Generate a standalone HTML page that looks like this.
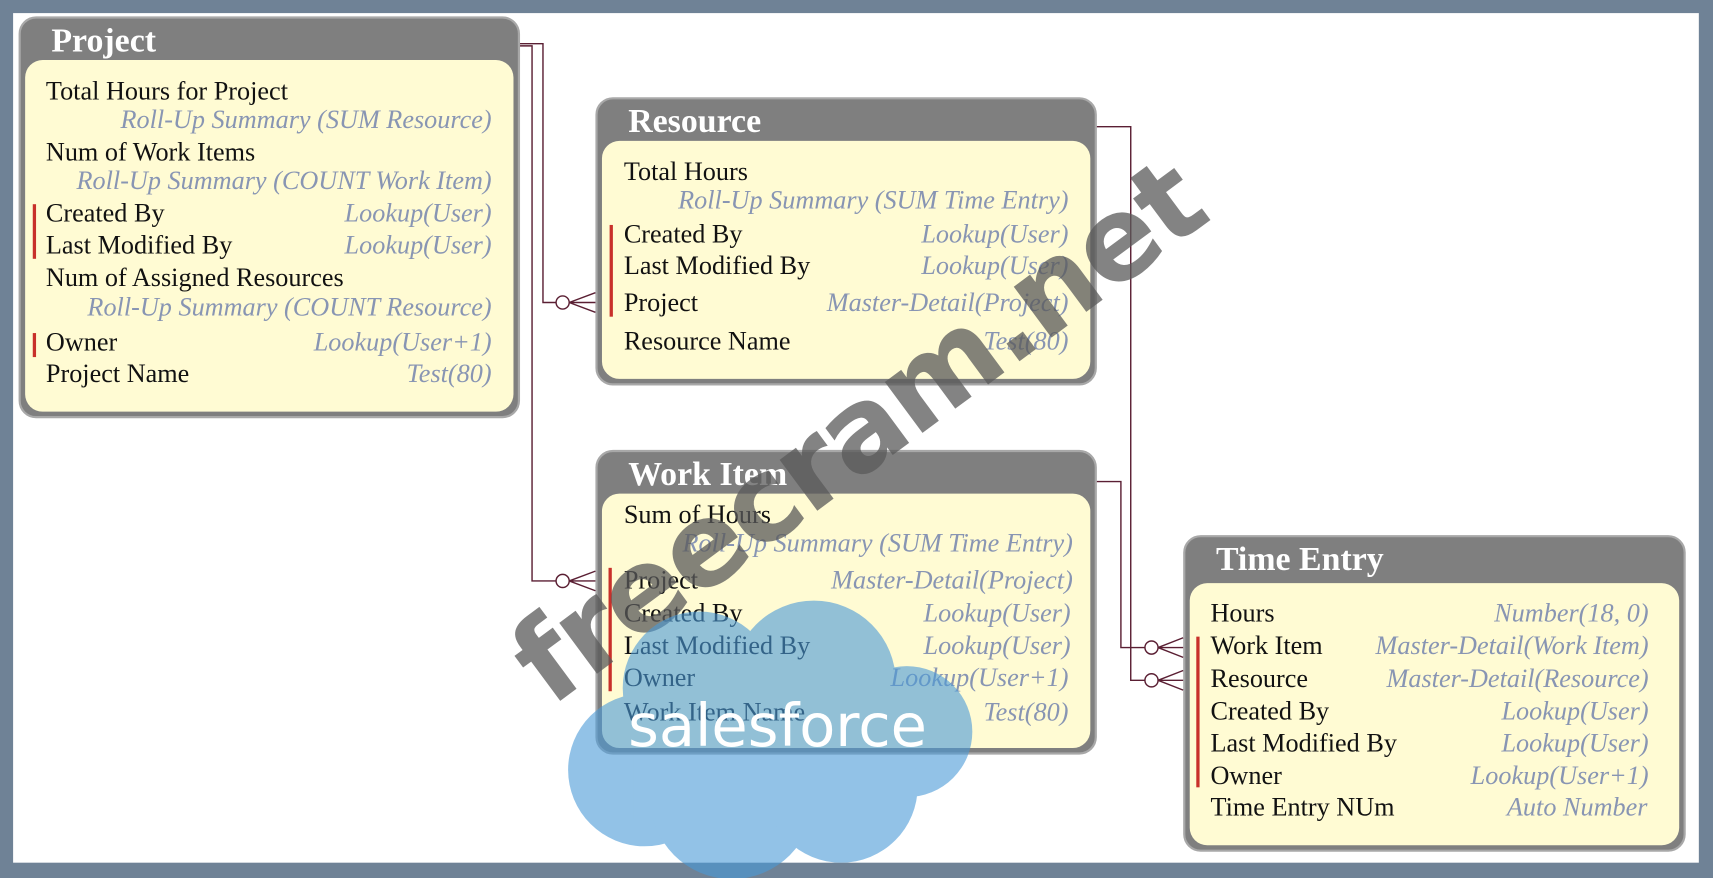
<!DOCTYPE html>
<html><head><meta charset="utf-8">
<style>
html,body{margin:0;padding:0;width:1713px;height:878px;overflow:hidden;background:#6f8296;}
#stage{position:absolute;left:0;top:0;width:1568px;height:804px;transform:scale(1.0925,1.092);transform-origin:0 0;}
#white{position:absolute;left:12px;top:12px;width:1543px;height:778px;background:#fff;}
.box{position:absolute;background:#7f7f7f;border-radius:16px;border:2px solid #a8a8a8;box-sizing:border-box;}
.box .hd{position:absolute;left:28px;top:2px;height:38px;line-height:40px;color:#fff;font:bold 31px "Liberation Serif",serif;}
.box .bd{position:absolute;left:4px;right:4px;bottom:4px;background:#fffbd3;border-radius:16px;}
.r{position:absolute;height:28px;line-height:28px;font:24px "Liberation Serif",serif;color:#111;white-space:nowrap;}
.t{position:absolute;height:28px;line-height:28px;font:italic 24px "Liberation Serif",serif;color:#8895b3;white-space:nowrap;text-align:right;}
.bar{position:absolute;width:3px;background:#c8302a;}
</style></head><body>
<div id="stage">
<div id="white"></div>

<!-- Project -->
<div class="box" style="left:17px;top:15px;width:459px;height:368px;">
  <div class="hd">Project</div>
  <div class="bd" style="top:38px;"></div>
</div>
<div class="bar" style="left:30px;top:187px;height:50px;"></div>
<div class="bar" style="left:30px;top:305px;height:22px;"></div>
<div class="r" style="left:42px;top:71px;">Total Hours for Project</div>
<div class="t" style="right:1118px;top:97px;">Roll-Up Summary (SUM Resource)</div>
<div class="r" style="left:42px;top:127px;">Num of Work Items</div>
<div class="t" style="right:1118px;top:153px;">Roll-Up Summary (COUNT Work Item)</div>
<div class="r" style="left:42px;top:183px;">Created By</div>
<div class="t" style="right:1118px;top:183px;">Lookup(User)</div>
<div class="r" style="left:42px;top:212px;">Last Modified By</div>
<div class="t" style="right:1118px;top:212px;">Lookup(User)</div>
<div class="r" style="left:42px;top:242px;">Num of Assigned Resources</div>
<div class="t" style="right:1118px;top:269px;">Roll-Up Summary (COUNT Resource)</div>
<div class="r" style="left:42px;top:301px;">Owner</div>
<div class="t" style="right:1118px;top:301px;">Lookup(User+1)</div>
<div class="r" style="left:42px;top:330px;">Project Name</div>
<div class="t" style="right:1118px;top:330px;">Test(80)</div>

<!-- Resource -->
<div class="box" style="left:545px;top:89px;width:459px;height:264px;">
  <div class="hd">Resource</div>
  <div class="bd" style="top:38px;"></div>
</div>
<div class="bar" style="left:558px;top:206px;height:84px;"></div>
<div class="r" style="left:571px;top:145px;">Total Hours</div>
<div class="t" style="right:590px;top:171px;">Roll-Up Summary (SUM Time Entry)</div>
<div class="r" style="left:571px;top:202px;">Created By</div>
<div class="t" style="right:590px;top:202px;">Lookup(User)</div>
<div class="r" style="left:571px;top:231px;">Last Modified By</div>
<div class="t" style="right:590px;top:231px;">Lookup(User)</div>
<div class="r" style="left:571px;top:265px;">Project</div>
<div class="t" style="right:590px;top:265px;">Master-Detail(Project)</div>
<div class="r" style="left:571px;top:300px;">Resource Name</div>
<div class="t" style="right:590px;top:300px;">Test(80)</div>

<!-- Work Item -->
<div class="box" style="left:545px;top:412px;width:459px;height:279px;">
  <div class="hd">Work Item</div>
  <div class="bd" style="top:38px;"></div>
</div>
<div class="bar" style="left:557px;top:520px;height:113px;"></div>
<div class="r" style="left:571px;top:459px;">Sum of Hours</div>
<div class="t" style="right:586px;top:485px;">Roll-Up Summary (SUM Time Entry)</div>
<div class="r" style="left:571px;top:519px;">Project</div>
<div class="t" style="right:586px;top:519px;">Master-Detail(Project)</div>
<div class="r" style="left:571px;top:549px;">Created By</div>
<div class="t" style="right:588px;top:549px;">Lookup(User)</div>
<div class="r" style="left:571px;top:579px;">Last Modified By</div>
<div class="t" style="right:588px;top:579px;">Lookup(User)</div>
<div class="r" style="left:571px;top:608px;">Owner</div>
<div class="t" style="right:590px;top:608px;">Lookup(User+1)</div>
<div class="r" style="left:571px;top:640px;">Work Item Name</div>
<div class="t" style="right:590px;top:640px;">Test(80)</div>

<!-- Time Entry -->
<div class="box" style="left:1083px;top:490px;width:460px;height:290px;">
  <div class="hd">Time Entry</div>
  <div class="bd" style="top:42px;"></div>
</div>
<div class="bar" style="left:1095px;top:583px;height:138px;"></div>
<div class="r" style="left:1108px;top:549px;">Hours</div>
<div class="t" style="right:59px;top:549px;">Number(18, 0)</div>
<div class="r" style="left:1108px;top:579px;">Work Item</div>
<div class="t" style="right:59px;top:579px;">Master-Detail(Work Item)</div>
<div class="r" style="left:1108px;top:609px;">Resource</div>
<div class="t" style="right:59px;top:609px;">Master-Detail(Resource)</div>
<div class="r" style="left:1108px;top:639px;">Created By</div>
<div class="t" style="right:59px;top:639px;">Lookup(User)</div>
<div class="r" style="left:1108px;top:668px;">Last Modified By</div>
<div class="t" style="right:59px;top:668px;">Lookup(User)</div>
<div class="r" style="left:1108px;top:698px;">Owner</div>
<div class="t" style="right:59px;top:698px;">Lookup(User+1)</div>
<div class="r" style="left:1108px;top:727px;">Time Entry NUm</div>
<div class="t" style="right:60px;top:727px;">Auto Number</div>

<svg width="1568" height="804" style="position:absolute;left:0;top:0;" fill="none" stroke="#5a1f33" stroke-width="1.3">
  <path d="M476 40 H497 V277 H509"/>
  <path d="M476 42 H487 V532 H509"/>
  <path d="M1004 116 H1035 V623 H1048"/>
  <path d="M1004 441 H1026 V593 H1048"/>
  <circle cx="515" cy="277" r="6" fill="#fff"/>
  <path d="M521 277 L545 268 M521 277 H545 M521 277 L545 286"/>
  <circle cx="515" cy="532" r="6" fill="#fff"/>
  <path d="M521 532 L545 523 M521 532 H545 M521 532 L545 541"/>
  <circle cx="1054" cy="593" r="6" fill="#fff"/>
  <path d="M1060 593 L1083 584 M1060 593 H1083 M1060 593 L1083 602"/>
  <circle cx="1054" cy="623" r="6" fill="#fff"/>
  <path d="M1060 623 L1083 614 M1060 623 H1083 M1060 623 L1083 632"/>
</svg>

<!-- watermark -->
<div style="position:absolute;left:785px;top:395px;transform:translate(-50%,-50%) rotate(-36.5deg);font:bold 106px 'DejaVu Sans','Liberation Sans',sans-serif;color:#5a5a5a;opacity:0.75;white-space:nowrap;letter-spacing:-2px;">freecram.net</div>

<svg width="1568" height="804" style="position:absolute;left:0;top:0;">
  <g fill="#4a9ad8" opacity="0.6">
    <circle cx="640" cy="630" r="70"/>
    <circle cx="745" cy="625" r="75"/>
    <circle cx="830" cy="670" r="60"/>
    <circle cx="590" cy="705" r="70"/>
    <circle cx="670" cy="730" r="75"/>
    <circle cx="770" cy="720" r="70"/>
    <rect x="580" y="640" width="250" height="110"/>
  </g>
  <text x="575" y="683" font-family="DejaVu Sans, Liberation Sans, sans-serif" font-size="54" fill="#fff">salesforce</text>
</svg>
</div>
</body></html>
